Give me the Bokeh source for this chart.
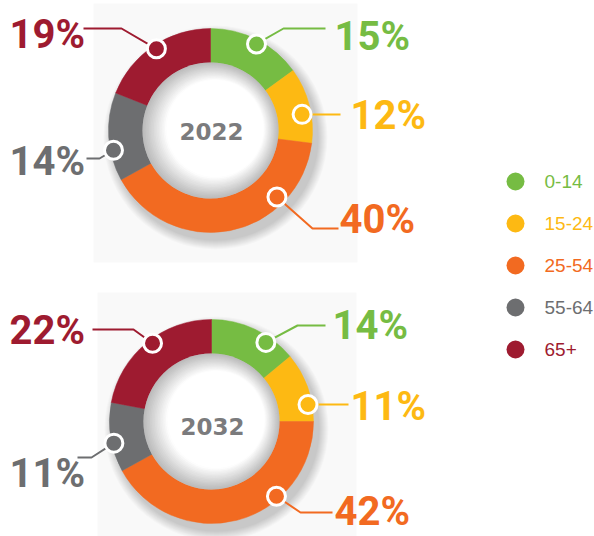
import numpy as np
from bokeh.plotting import figure
from bokeh.models import Range1d
from bokeh.embed import file_html
from bokeh.resources import INLINE
from bokeh.core.properties import value

# ---------------- data ----------------
groups = ["0-14", "15-24", "25-54", "55-64", "65+"]
colors = ["#76BC43", "#FDB913", "#F26A21", "#6D6E70", "#9E1B30"]
years = ["2022", "2032"]
share_2022 = [15, 12, 40, 14, 19]
share_2032 = [14, 11, 42, 11, 22]
shares = [share_2022, share_2032]

# ---------------- layout (page pixels) ----------------
W, H = 594, 536
def Y(y):
    return H - y

centers = [(210, 130), (211, 421)]
R_OUT, R_IN = 102, 68
# marker angle (deg, ccw from +x) and radius per slice
marker_ang = [[62, 10, -45, 191.5, 123.5], [55.5, 10, -49, 192.5, 127]]
marker_rad = [[98, 93, 94, 99, 98], [96, 98, 99, 100, 98]]
# leader: elbow point and end x
elbows = [[(283, 28), (302, 114), (312, 228), (99, 158), (121, 28)],
          [(297, 325), (308, 404), (300, 512), (91, 457), (133, 329)]]
ends_x = [[325, 340, 338, 86, 83], [325, 348, 332, 77, 92]]
# label left x and vertical centre
lab_x = [[334, 350, 339, 9, 9], [332, 350, 334, 9, 9]]
lab_y = [[36, 115, 219, 161, 34], [325, 406, 511, 473, 330]]
center_txt_y = [131, 426]
bg_rects = [(93, 357, 3, 262), (97, 356, 292, 536)]

legend_x = 515
legend_y = [181, 223, 265, 307, 349]

p = figure(width=W, height=H, x_range=Range1d(0, W), y_range=Range1d(0, H),
           output_backend="svg", toolbar_location=None, min_border=0)
p.axis.visible = False
p.grid.visible = False
p.outline_line_color = None
p.background_fill_color = "white"
p.border_fill_color = "white"

LABEL_FONT = value("Roboto")

for k in range(2):
    cx, cy = centers[k]
    x0, x1, y0, y1 = bg_rects[k]
    p.quad(left=x0, right=x1, top=Y(y0), bottom=Y(y1), fill_color="#f9f9f9", line_color=None)
    # soft drop shadow
    for i in range(10):
        p.circle(x=cx + 5, y=Y(cy + 7), radius=R_OUT + 10 - i, fill_color="#000000",
                 fill_alpha=0.018, line_color=None)
    vals = np.array(shares[k], dtype=float)
    frac = vals / vals.sum()
    cum = np.concatenate([[0], np.cumsum(frac)])
    start = np.pi / 2 - 2 * np.pi * cum[:-1]
    end = np.pi / 2 - 2 * np.pi * cum[1:]
    p.annular_wedge(x=[cx] * 5, y=[Y(cy)] * 5, inner_radius=R_IN, outer_radius=R_OUT,
                    start_angle=start, end_angle=end, direction="clock",
                    fill_color=colors, line_color=colors, line_width=0.5)
    # inner shading
    n = 24
    for i in range(n):
        t = i / (n - 1)
        r = R_IN - t * 30
        g = int(188 + (255 - 188) * min(1.0, t * 1.6))
        p.circle(x=cx + t * 7, y=Y(cy - t * 3), radius=r,
                 fill_color=(g, g, g), line_color=None)
    p.text(x=[cx + 1], y=[Y(center_txt_y[k])], text=[years[k]], text_align="center",
           text_baseline="middle", text_font=value("DejaVu Sans"), text_font_style="bold",
           text_font_size="23px", text_color="#7b7b7d")
    # leaders
    ang = np.radians(marker_ang[k])
    mx = cx + np.array(marker_rad[k]) * np.cos(ang)
    my = cy - np.array(marker_rad[k]) * np.sin(ang)
    xs, ys = [], []
    for j in range(5):
        ex, ey = elbows[k][j]
        xs.append([mx[j], ex, ends_x[k][j]])
        ys.append([Y(my[j]), Y(ey), Y(ey)])
    p.multi_line(xs=xs, ys=ys, line_color=colors, line_width=2)
    p.scatter(x=mx, y=[Y(v) for v in my], size=18, fill_color=colors,
              line_color="white", line_width=3)
    p.text(x=lab_x[k], y=[Y(v) for v in lab_y[k]], text=[f"{v}%" for v in shares[k]],
           text_align="left", text_baseline="middle",
           text_font=LABEL_FONT, text_font_style="bold",
           text_font_size="40px", text_color=colors)

# legend
p.scatter(x=[legend_x] * 5, y=[Y(v) for v in legend_y], size=18, fill_color=colors,
          line_color=None)
p.text(x=[544] * 5, y=[Y(v) for v in legend_y], text=groups, text_align="left",
       text_baseline="middle", text_font=value("Liberation Sans"), text_font_size="19px",
       text_color=colors)

open("out.html", "w").write(file_html(p, INLINE))
